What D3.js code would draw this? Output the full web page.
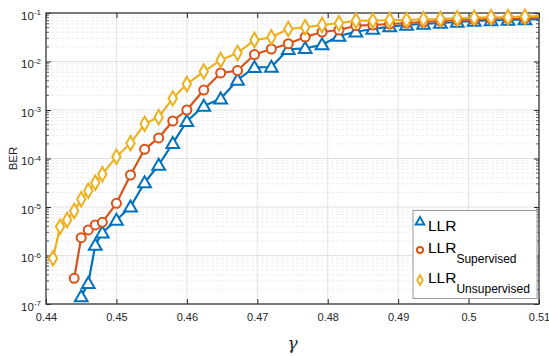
<!DOCTYPE html>
<html>
<head>
<meta charset="utf-8">
<script src="https://cdn.jsdelivr.net/npm/d3@7"></script>
<style>
  html, body { margin: 0; padding: 0; background: #fff; }
  svg { display: block; font-family: "Liberation Sans", Arial, sans-serif; }
</style>
</head>
<body>
<div id="chart"></div>
<script>
// gamma values shared by all curves (last one sits just past the axis edge)
const gamma = [0.441, 0.442, 0.443, 0.444, 0.445, 0.446, 0.447, 0.448, 0.450, 0.452,
  0.454, 0.456, 0.458, 0.460, 0.4624, 0.4648, 0.4672, 0.4696, 0.4720, 0.4744,
  0.4768, 0.4792, 0.4816, 0.4840, 0.4864, 0.4888, 0.4912, 0.4936, 0.4960, 0.4984,
  0.5008, 0.5032, 0.5056, 0.5080, 0.5104];

const berLLR = [null, null, null, null, 1.42e-7, 2.67e-7, 1.64e-6, 2.95e-6, 5.4e-6, 1.01e-5,
  3.17e-5, 7.34e-5, 2.06e-4, 5.87e-4, 1.21e-3, 1.70e-3, 4.16e-3, 7.59e-3, 7.7e-3, 1.79e-2,
  1.87e-2, 2.22e-2, 3.36e-2, 4.11e-2, 4.68e-2, 5.22e-2, 5.66e-2, 5.93e-2, 6.22e-2, 6.52e-2,
  6.84e-2, 7.0e-2, 7.18e-2, 7.34e-2, 7.52e-2];

const berSupervised = [null, null, null, 3.39e-7, 2.33e-6, 3.36e-6, 4.26e-6, 4.84e-6, 1.19e-5, 4.57e-5,
  1.55e-4, 2.65e-4, 5.93e-4, 1.0e-3, 2.58e-3, 5.8e-3, 6.5e-3, 1.39e-2, 1.81e-2, 2.32e-2,
  3.2e-2, 4.06e-2, 4.46e-2, 5.47e-2, 5.66e-2, 5.93e-2, 6.22e-2, 6.52e-2, 6.84e-2, 7.18e-2,
  7.34e-2, 7.52e-2, 7.7e-2, 7.88e-2, 8.07e-2];

const berUnsupervised = [8.75e-7, 3.93e-6, 5.4e-6, 8.3e-6, 1.44e-5, 2.17e-5, 3.17e-5, 4.72e-5, 1.09e-4, 2.06e-4,
  5.2e-4, 7.1e-4, 1.74e-3, 3.43e-3, 6.2e-3, 1.07e-2, 1.5e-2, 2.77e-2, 3.15e-2, 4.68e-2,
  5.07e-2, 5.66e-2, 6.14e-2, 6.94e-2, 6.94e-2, 7.18e-2, 7.18e-2, 7.42e-2, 7.52e-2, 7.78e-2,
  8.0e-2, 8.15e-2, 8.15e-2, 8.4e-2, 8.67e-2];

const xTicks = [0.44, 0.45, 0.46, 0.47, 0.48, 0.49, 0.5, 0.51];
const xTickLabels = ['0.44', '0.45', '0.46', '0.47', '0.48', '0.49', '0.5', '0.51'];
const yTickExps = [-7, -6, -5, -4, -3, -2, -1];

const width = 549;
const height = 356;
const margin = { t: 13, r: 10, b: 52, l: 46 };
const axisColor = '#262626';

const series = [
  { name: 'LLR', sub: null, values: berLLR, color: '#0072BD', symbol: d3.symbolTriangle, size: 70 },
  { name: 'LLR', sub: 'Supervised', values: berSupervised, color: '#D95319', symbol: d3.symbolCircle, size: 64 },
  { name: 'LLR', sub: 'Unsupervised', values: berUnsupervised, color: '#EDB120', symbol: d3.symbolDiamond, size: 60 },
];

const svg = d3.select('#chart').append('svg')
  .attr('width', width)
  .attr('height', height)
  .attr('viewBox', [0, 0, width, height]);

const x = d3.scaleLinear()
  .domain([0.44, 0.51])
  .range([margin.l, width - margin.r]);

const y = d3.scaleLog()
  .domain([1e-7, 1e-1])
  .range([height - margin.b, margin.t]);

// clip area
svg.append('clipPath').attr('id', 'plotClip')
  .append('rect')
  .attr('x', margin.l)
  .attr('y', margin.t - 6)
  .attr('width', width - margin.l - margin.r)
  .attr('height', height - margin.t - margin.b + 12);

// minor grid (log y)
const minorVals = [];
yTickExps.slice(0, -1).forEach(e => {
  for (let k = 2; k <= 9; k++) minorVals.push(k * Math.pow(10, e));
});

svg.append('g')
  .selectAll('line')
  .data(minorVals)
  .join('line')
  .attr('x1', margin.l)
  .attr('x2', width - margin.r)
  .attr('y1', d => y(d))
  .attr('y2', d => y(d))
  .attr('stroke', '#e8e8e8')
  .attr('stroke-width', 0.8)
  .attr('stroke-dasharray', '3,2');

// major grid
svg.append('g')
  .selectAll('line')
  .data(yTickExps)
  .join('line')
  .attr('x1', margin.l)
  .attr('x2', width - margin.r)
  .attr('y1', d => y(Math.pow(10, d)))
  .attr('y2', d => y(Math.pow(10, d)))
  .attr('stroke', '#e2e2e2')
  .attr('stroke-width', 1);

svg.append('g')
  .selectAll('line')
  .data(xTicks)
  .join('line')
  .attr('x1', d => x(d))
  .attr('x2', d => x(d))
  .attr('y1', margin.t)
  .attr('y2', height - margin.b)
  .attr('stroke', '#e2e2e2')
  .attr('stroke-width', 1);

// axes
const yTickVals = yTickExps.map(e => Math.pow(10, e));

svg.append('g')
  .attr('transform', `translate(0,${height - margin.b})`)
  .call(d3.axisBottom(x).tickValues(xTicks).tickSize(-5).tickPadding(9)
    .tickFormat((d, i) => xTickLabels[i]))
  .call(g => g.select('.domain').remove())
  .call(g => g.selectAll('line').attr('stroke', axisColor))
  .call(g => g.selectAll('text').attr('fill', axisColor).attr('font-size', 11)
    .attr('font-family', '"Liberation Sans", Arial, sans-serif'));

svg.append('g')
  .attr('transform', `translate(0,${margin.t})`)
  .call(d3.axisTop(x).tickValues(xTicks).tickSize(-5).tickFormat(''))
  .call(g => g.select('.domain').remove())
  .call(g => g.selectAll('line').attr('stroke', axisColor));

const yLeft = svg.append('g')
  .attr('transform', `translate(${margin.l},0)`)
  .call(d3.axisLeft(y).tickValues(yTickVals).tickSize(-5).tickPadding(5).tickFormat(''))
  .call(g => g.select('.domain').remove())
  .call(g => g.selectAll('line').attr('stroke', axisColor));

yLeft.selectAll('.tick text')
  .attr('fill', axisColor)
  .attr('font-family', '"Liberation Sans", Arial, sans-serif')
  .attr('font-size', 11.5)
  .attr('dy', '0.55em')
  .each(function (d) {
    const t = d3.select(this);
    t.append('tspan').text('10');
    t.append('tspan').attr('dy', '-0.55em').attr('font-size', 8).text(Math.round(Math.log10(d)));
  });

svg.append('g')
  .attr('transform', `translate(${width - margin.r},0)`)
  .call(d3.axisRight(y).tickValues(yTickVals).tickSize(-5).tickFormat(''))
  .call(g => g.select('.domain').remove())
  .call(g => g.selectAll('line').attr('stroke', axisColor));

// minor ticks on left and right
[margin.l, width - margin.r].forEach((px, side) => {
  svg.append('g')
    .selectAll('line')
    .data(minorVals)
    .join('line')
    .attr('x1', px)
    .attr('x2', side === 0 ? px + 3 : px - 3)
    .attr('y1', d => y(d))
    .attr('y2', d => y(d))
    .attr('stroke', axisColor)
    .attr('stroke-width', 0.7);
});

// box
svg.append('rect')
  .attr('x', margin.l)
  .attr('y', margin.t)
  .attr('width', width - margin.l - margin.r)
  .attr('height', height - margin.t - margin.b)
  .attr('fill', 'none')
  .attr('stroke', '#3a3a3a')
  .attr('stroke-width', 1.3);

// curves
const line = d3.line()
  .defined(d => d[1] != null)
  .x(d => x(d[0]))
  .y(d => y(d[1]));

const plot = svg.append('g').attr('clip-path', 'url(#plotClip)');

series.forEach(s => {
  const pts = gamma.map((g, i) => [g, s.values[i]]);
  plot.append('path')
    .datum(pts)
    .attr('fill', 'none')
    .attr('stroke', s.color)
    .attr('stroke-width', 2.2)
    .attr('stroke-linejoin', 'round')
    .attr('d', line);
});

series.forEach(s => {
  const pts = gamma.map((g, i) => [g, s.values[i]])
    .filter(d => d[1] != null && d[0] <= 0.51);
  plot.append('g')
    .selectAll('path')
    .data(pts)
    .join('path')
    .attr('transform', d => `translate(${x(d[0])},${y(d[1]) + (s.symbol === d3.symbolTriangle ? 1 : 0)})`)
    .attr('d', d3.symbol(s.symbol, s.size))
    .attr('fill', '#fff')
    .attr('stroke', s.color)
    .attr('stroke-width', 2);
});

// axis labels
svg.append('text')
  .attr('x', (margin.l + width - margin.r) / 2)
  .attr('y', 349)
  .attr('text-anchor', 'middle')
  .attr('font-family', '"DejaVu Serif", "Liberation Serif", serif')
  .attr('font-style', 'italic')
  .attr('font-size', 17)
  .attr('fill', axisColor)
  .text('γ');

svg.append('text')
  .attr('transform', `translate(17,${(margin.t + height - margin.b) / 2}) rotate(-90)`)
  .attr('text-anchor', 'middle')
  .attr('font-size', 11.5)
  .attr('fill', axisColor)
  .text('BER');

// legend
const legend = svg.append('g');
legend.append('rect')
  .attr('x', 413)
  .attr('y', 210.5)
  .attr('width', 124)
  .attr('height', 88)
  .attr('fill', '#fff')
  .attr('stroke', '#9a9a9a')
  .attr('stroke-width', 1);

const rowMarkerY = [222, 250, 280];
const rowBaseY = [230.7, 253.3, 283.3];
const rowSubDy = [0, 9.4, 10];
series.forEach((s, i) => {
  legend.append('path')
    .attr('transform', `translate(420,${rowMarkerY[i]})`)
    .attr('d', d3.symbol(s.symbol, s.size * 0.45))
    .attr('fill', '#fff')
    .attr('stroke', s.color)
    .attr('stroke-width', 2);
  const t = legend.append('text')
    .attr('x', 428)
    .attr('y', rowBaseY[i])
    .attr('font-size', 15.5)
    .attr('fill', '#000');
  t.append('tspan').text(s.name);
  if (s.sub) {
    t.append('tspan').attr('dy', rowSubDy[i]).attr('font-size', 12).text(s.sub);
  }
});
</script>
</body>
</html>
